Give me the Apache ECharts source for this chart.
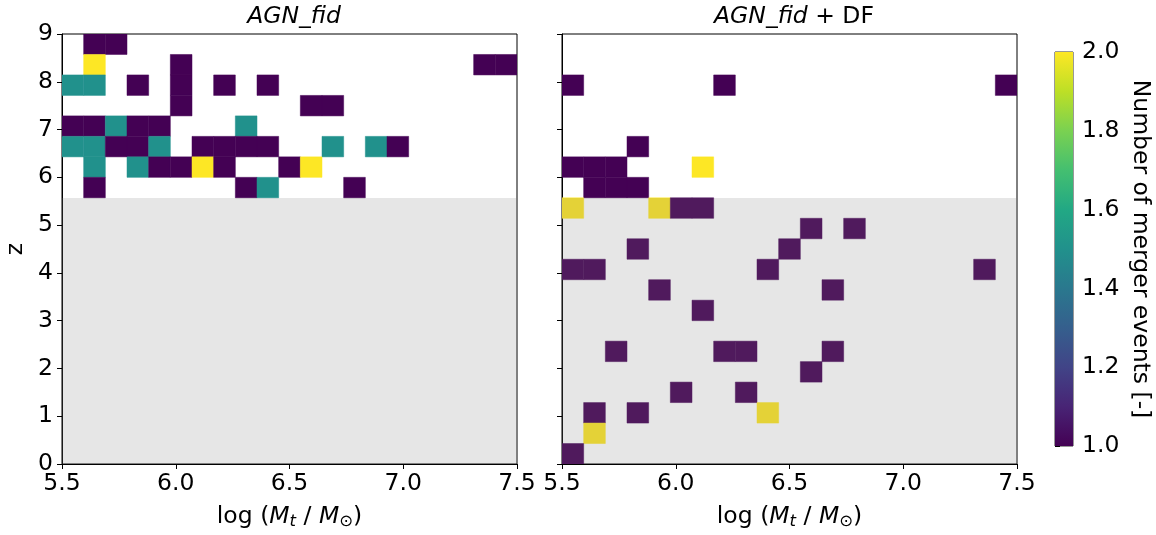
<!DOCTYPE html>
<html><head><meta charset="utf-8">
<script src="https://cdn.jsdelivr.net/npm/echarts@6/dist/echarts.min.js"></script>
<style>html,body{margin:0;padding:0;background:#fff}#c{width:1156px;height:535px}</style>
</head><body><div id="c"></div><script>
// ---- data ----
const xRange = [5.5, 7.5];          // log(Mt/Msun) histogram range
const zRange = [0, 9];              // redshift histogram range
const nBins = 21;                   // bins per axis
const xTicks = [5.5, 6.0, 6.5, 7.0, 7.5];
const zTicks = [0, 1, 2, 3, 4, 5, 6, 7, 8, 9];
const cbarTicks = [1.0, 1.2, 1.4, 1.6, 1.8, 2.0];
const grayZmax = 5.57;              // shaded redshift region upper edge
const titles = ['AGN_fid', 'AGN_fid + DF'];
// cells: [x-bin index, z-bin index, number of merger events]
const cellsFid = [
  [1,20,1],[2,20,1],
  [1,19,2],[5,19,1],[19,19,1],[20,19,1],
  [0,18,1.5],[1,18,1.5],[3,18,1],[5,18,1],[7,18,1],[9,18,1],
  [5,17,1],[11,17,1],[12,17,1],
  [0,16,1],[1,16,1],[2,16,1.5],[3,16,1],[4,16,1],[8,16,1.5],
  [0,15,1.5],[1,15,1.5],[2,15,1],[3,15,1],[4,15,1.5],[6,15,1],[7,15,1],[8,15,1],[9,15,1],[12,15,1.5],[14,15,1.5],[15,15,1],
  [1,14,1.5],[3,14,1.5],[4,14,1],[5,14,1],[6,14,2],[7,14,1],[10,14,1],[11,14,2],
  [1,13,1],[8,13,1],[9,13,1.5],[13,13,1]
];
const cellsDF = [
  [0,18,1],[7,18,1],[20,18,1],
  [3,15,1],
  [0,14,1],[1,14,1],[2,14,1],[6,14,2],
  [1,13,1],[2,13,1],[3,13,1],
  [0,12,2],[4,12,2],[5,12,1],[6,12,1],
  [11,11,1],[13,11,1],
  [3,10,1],[10,10,1],
  [0,9,1],[1,9,1],[9,9,1],[19,9,1],
  [4,8,1],[12,8,1],
  [6,7,1],
  [2,5,1],[7,5,1],[8,5,1],[12,5,1],
  [11,4,1],
  [5,3,1],[8,3,1],
  [1,2,1],[3,2,1],[9,2,2],
  [1,1,2],
  [0,0,1]
];
const viridis = ['#440154','#482475','#414487','#355f8d','#2a788e','#21918c','#22a884','#44bf70','#7ad151','#bddf26','#fde725'];

// ---- chart ----
const FONT = 'DejaVu Sans';
const FS = 23.5;
const chart = echarts.init(document.getElementById('c'), null, {renderer:'canvas'});
const dx = (xRange[1]-xRange[0])/nBins, dz = (zRange[1]-zRange[0])/nBins;

function cellItem(params, api) {
  const c = api.value(0), r = api.value(1);
  const p0 = api.coord([xRange[0]+c*dx, zRange[0]+(r+1)*dz]);
  const p1 = api.coord([xRange[0]+(c+1)*dx, zRange[0]+r*dz]);
  const col = api.visual('color');
  return {type:'rect', shape:{x:p0[0], y:p0[1], width:p1[0]-p0[0], height:p1[1]-p0[1]},
    style:{fill:col, stroke:col, lineWidth:0.5}};
}
function shadeItem(params, api) {
  const p0 = api.coord([api.value(0), api.value(3)]);
  const p1 = api.coord([api.value(2), api.value(1)]);
  return {type:'rect', shape:{x:p0[0], y:p0[1], width:p1[0]-p0[0], height:p1[1]-p0[1]},
    style:{fill:'rgba(128,128,128,0.2)'}};
}
function cbarItem(params, api) {
  const p0 = api.coord([0, cbarTicks[cbarTicks.length-1]]);
  const p1 = api.coord([1, cbarTicks[0]]);
  return {type:'rect', shape:{x:p0[0], y:p0[1], width:p1[0]-p0[0], height:p1[1]-p0[1]},
    style:{fill:{type:'linear', x:0, y:1, x2:0, y2:0,
      colorStops: viridis.map((c,i)=>({offset:i/(viridis.length-1), color:c}))}}};
}

const grids = [
  {left:62, top:34, width:455, height:432, show:true, borderColor:'#000', borderWidth:1, backgroundColor:'transparent'},
  {left:562, top:34, width:455, height:432, show:true, borderColor:'#000', borderWidth:1, backgroundColor:'transparent'},
  {left:1055, top:52, width:18, height:394, show:true, borderColor:'#333', borderWidth:1, backgroundColor:'transparent'}
];
const axisCommon = {
  axisLine:{show:true, onZero:false, lineStyle:{color:'#000', width:1}},
  axisTick:{show:true, inside:false, length:5, lineStyle:{color:'#000', width:1}},
  splitLine:{show:false}
};
const xName = '{n|log (}{i|M}{s|t}{n| / }{i|M}{o|⊙}{n|)}';
const xNameStyle = {color:'#000', fontFamily:FONT, fontSize:FS, rich:{
  n:{fontSize:FS, fontFamily:FONT, color:'#000'},
  i:{fontSize:FS, fontFamily:FONT, fontStyle:'italic', color:'#000'},
  s:{fontSize:16.5, fontFamily:FONT, fontStyle:'italic', color:'#000', padding:[10,0,0,0]},
  o:{fontSize:16.5, fontFamily:FONT, color:'#000', padding:[10,0,0,0]}
}};
function xAxisFor(g) {
  return Object.assign({}, axisCommon, {
    type:'value', gridIndex:g, min:xTicks[0], max:xTicks[xTicks.length-1], interval:xTicks[1]-xTicks[0],
    axisLabel:{color:'#000', fontFamily:FONT, fontSize:FS, margin:8, formatter:v=>v.toFixed(1)},
    name:xName, nameLocation:'middle', nameGap:39, nameTextStyle:xNameStyle
  });
}
function yAxisFor(g, labels) {
  return Object.assign({}, axisCommon, {
    type:'value', gridIndex:g, min:zTicks[0], max:zTicks[zTicks.length-1], interval:zTicks[1]-zTicks[0],
    axisLabel:{show:labels, color:'#000', fontFamily:FONT, fontSize:FS, margin:9},
    name: labels ? 'z' : '', nameLocation:'middle', nameGap:34,
    nameTextStyle:{color:'#000', fontFamily:FONT, fontSize:FS}
  });
}

const titleRich = {
  it:{fontSize:FS, fontFamily:FONT, fontStyle:'italic', fontWeight:'normal', color:'#000'},
  n:{fontSize:FS, fontFamily:FONT, fontWeight:'normal', color:'#000'}
};

const option = {
  animation:false,
  backgroundColor:'#fff',
  title:[
    {text:'{it|'+titles[0]+'}', left:289, top:0, textAlign:'center', textStyle:{rich:titleRich, fontSize:FS, fontWeight:'normal'}},
    {text:'{it|'+titles[1].split(' + ')[0]+'}{n| + '+titles[1].split(' + ')[1]+'}', left:789, top:0, textAlign:'center', textStyle:{rich:titleRich, fontSize:FS, fontWeight:'normal'}}
  ],
  grid:grids,
  xAxis:[xAxisFor(0), xAxisFor(1),
    {type:'value', gridIndex:2, min:0, max:1, show:false}],
  yAxis:[yAxisFor(0,true), yAxisFor(1,false),
    Object.assign({}, axisCommon, {type:'value', gridIndex:2, position:'right',
      min:cbarTicks[0], max:cbarTicks[cbarTicks.length-1], interval:0.2,
      axisLine:{show:false},
      axisLabel:{color:'#000', fontFamily:FONT, fontSize:FS, margin:9, formatter:v=>v.toFixed(1)},
      name:'Number of merger events [-]', nameLocation:'middle', nameRotate:-90, nameGap:55,
      nameTextStyle:{color:'#000', fontFamily:FONT, fontSize:FS}})],
  visualMap:[{type:'continuous', show:false, min:cbarTicks[0], max:cbarTicks[cbarTicks.length-1],
    dimension:2, seriesIndex:[0,1], inRange:{color:viridis}}],
  series:[
    {type:'custom', xAxisIndex:0, yAxisIndex:0, renderItem:cellItem, data:cellsFid, z:2, clip:true},
    {type:'custom', xAxisIndex:1, yAxisIndex:1, renderItem:cellItem, data:cellsDF, z:2, clip:true},
    {type:'custom', xAxisIndex:0, yAxisIndex:0, renderItem:shadeItem, data:[[xRange[0], zRange[0], xRange[1], grayZmax]], z:3, clip:true},
    {type:'custom', xAxisIndex:1, yAxisIndex:1, renderItem:shadeItem, data:[[xRange[0], zRange[0], xRange[1], grayZmax]], z:3, clip:true},
    {type:'custom', xAxisIndex:2, yAxisIndex:2, renderItem:cbarItem, data:[[0,1]], z:2}
  ]
};
chart.setOption(option);
</script></body></html>
